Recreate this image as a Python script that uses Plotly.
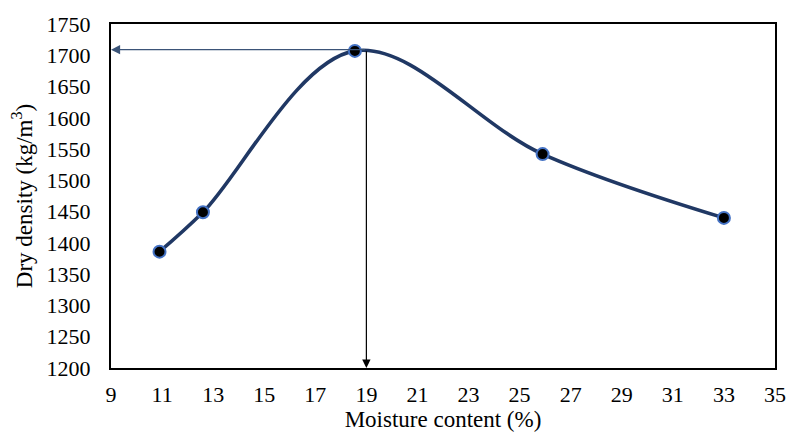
import plotly.graph_objects as go

moisture = [10.9, 12.6, 18.55, 25.9, 33.0]
density = [1386, 1449, 1707, 1542, 1440]
omc = 19.0
mdd = 1709
x_ticks = list(range(9, 36, 2))
y_ticks = list(range(1200, 1751, 50))

fig = go.Figure()
fig.add_trace(go.Scatter(
    x=moisture, y=density, mode="lines+markers",
    line=dict(color="#203864", width=3.6, shape="spline", smoothing=1.0),
    marker=dict(color="black", size=12, line=dict(color="#4472C4", width=2)),
    showlegend=False,
))

# horizontal arrow to y-axis
fig.add_annotation(x=9, y=mdd, ax=omc, ay=mdd, xref="x", yref="y", axref="x", ayref="y",
                   showarrow=True, arrowhead=2, arrowsize=1.4, arrowwidth=1.3,
                   arrowcolor="#3B5478", text="")
# vertical arrow to x-axis
fig.add_annotation(x=omc, y=1200, ax=omc, ay=mdd, xref="x", yref="y", axref="x", ayref="y",
                   showarrow=True, arrowhead=2, arrowsize=1.4, arrowwidth=1.2,
                   arrowcolor="black", text="")

font = dict(family="Liberation Serif, Times New Roman, serif", size=22, color="black")
fig.update_layout(
    width=798, height=436,
    margin=dict(l=111, r=15, t=16, b=68),
    paper_bgcolor="white", plot_bgcolor="white",
    font=font,
    xaxis=dict(range=[9, 35], tickvals=x_ticks, showgrid=False, zeroline=False,
               showline=True, linecolor="black", linewidth=2, mirror=True,
               ticks="", tickfont=dict(size=22), ticklabelstandoff=6,
               title=dict(text="Moisture content (%)", font=dict(size=23), standoff=0)),
    yaxis=dict(range=[1200, 1750], tickvals=y_ticks, showgrid=False, zeroline=False,
               showline=True, linecolor="black", linewidth=2, mirror=True,
               ticks="", tickfont=dict(size=22), ticklabelstandoff=14,
               title=dict(text="Dry density (kg/m<sup>3</sup>)", font=dict(size=23), standoff=8)),
)
fig.write_html("out.html", config={"displayModeBar": False})
with open("out.html", encoding="utf-8") as f:
    html = f.read()
html = html.replace("<head>", "<head><style>html,body{margin:0;padding:0;overflow:hidden;}</style>", 1)
with open("out.html", "w", encoding="utf-8") as f:
    f.write(html)
